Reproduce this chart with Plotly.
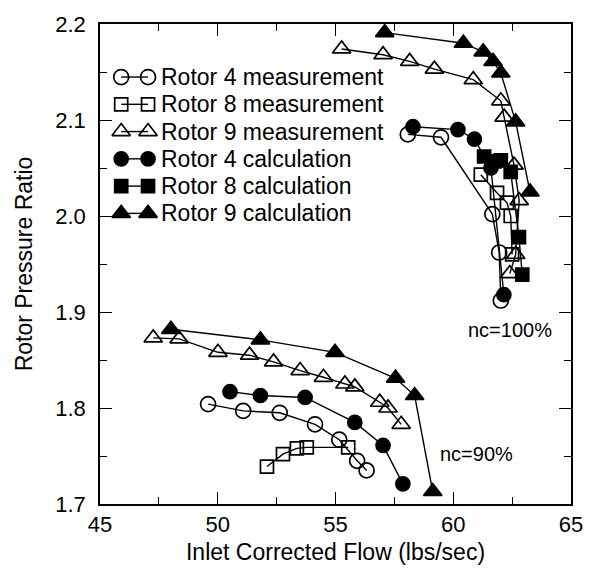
import plotly.graph_objects as go

# ---------------- data ----------------
# 100% speed line
r4_meas_100_x = [58.07, 59.48, 61.66, 61.95, 62.02]
r4_meas_100_y = [2.085, 2.082, 2.002, 1.962, 1.912]
r8_meas_100_x = [61.17, 61.86, 62.28, 62.44, 62.50]
r8_meas_100_y = [2.043, 2.024, 2.014, 2.000, 1.960]
r9_meas_100_x = [55.26, 57.02, 58.15, 59.20, 60.85, 62.02, 62.16, 62.58, 62.80, 62.65, 62.40]
r9_meas_100_y = [2.174, 2.168, 2.161, 2.153, 2.142, 2.120, 2.103, 2.053, 2.016, 1.960, 1.940]
r4_calc_100_x = [58.29, 60.20, 60.90, 61.60, 62.15]
r4_calc_100_y = [2.093, 2.090, 2.080, 2.050, 1.918]
r8_calc_100_x = [61.31, 61.75, 62.02, 62.44, 62.79, 62.93]
r8_calc_100_y = [2.062, 2.057, 2.058, 2.046, 1.978, 1.939]
r9_calc_100_x = [57.09, 60.43, 61.27, 61.69, 62.02, 62.65, 63.26]
r9_calc_100_y = [2.191, 2.180, 2.171, 2.161, 2.149, 2.098, 2.025]

# 90% speed line
r4_meas_90_x = [49.59, 51.08, 52.63, 54.13, 55.16, 55.92, 56.32]
r4_meas_90_y = [1.804, 1.797, 1.795, 1.783, 1.767, 1.745, 1.735]
r8_meas_90_x = [52.09, 52.77, 53.36, 53.78, 55.54]
r8_meas_90_y = [1.739, 1.752, 1.758, 1.759, 1.759]
r9_meas_90_x = [47.26, 48.36, 50.01, 51.35, 52.37, 53.50, 54.49, 55.40, 55.82, 56.88, 57.23, 57.79]
r9_meas_90_y = [1.873, 1.872, 1.858, 1.855, 1.848, 1.839, 1.832, 1.825, 1.822, 1.806, 1.800, 1.783]
r4_calc_90_x = [50.52, 51.81, 53.71, 55.82, 57.02, 57.86]
r4_calc_90_y = [1.817, 1.813, 1.811, 1.785, 1.761, 1.721]
r9_calc_90_x = [48.01, 51.81, 54.98, 57.55, 58.36, 59.13]
r9_calc_90_y = [1.882, 1.871, 1.858, 1.831, 1.813, 1.713]

series_names = ["Rotor 4 measurement", "Rotor 8 measurement", "Rotor 9 measurement",
                "Rotor 4 calculation", "Rotor 8 calculation", "Rotor 9 calculation"]

x_ticks = [45, 50, 55, 60, 65]
y_ticks = [1.7, 1.8, 1.9, 2.0, 2.1, 2.2]
y_tick_text = ["1.7", "1.8", "1.9", "2.0", "2.1", "2.2"]

speed_labels = ["nc=100%", "nc=90%"]
speed_label_x = [60.55, 59.35]
speed_label_y = [1.881, 1.752]

# ---------------- styles ----------------
FONT = "Liberation Sans, Arial, Helvetica, sans-serif"
styles = [
    dict(symbol="circle-open", size=15),
    dict(symbol="square-open", size=13),
    dict(symbol="triangle-up-open", size=16),
    dict(symbol="circle", size=14),
    dict(symbol="square", size=13),
    dict(symbol="triangle-up", size=16),
]

series = [
    (r4_meas_100_x, r4_meas_100_y, r4_meas_90_x, r4_meas_90_y),
    (r8_meas_100_x, r8_meas_100_y, r8_meas_90_x, r8_meas_90_y),
    (r9_meas_100_x, r9_meas_100_y, r9_meas_90_x, r9_meas_90_y),
    (r4_calc_100_x, r4_calc_100_y, r4_calc_90_x, r4_calc_90_y),
    (r8_calc_100_x, r8_calc_100_y, [], []),
    (r9_calc_100_x, r9_calc_100_y, r9_calc_90_x, r9_calc_90_y),
]

fig = go.Figure()
for (x1, y1, x2, y2), st, name in zip(series, styles, series_names):
    xs = list(x1) + ([None] + list(x2) if x2 else [])
    ys = list(y1) + ([None] + list(y2) if y2 else [])
    fig.add_trace(go.Scatter(
        x=xs, y=ys, mode="lines+markers", name=name, connectgaps=False,
        line=dict(color="black", width=1.4),
        marker=dict(symbol=st["symbol"], size=st["size"], color="black",
                    line=dict(color="black", width=1.7)),
        showlegend=False,
    ))

# ---------------- hand-made legend (two symbols joined by a line) ----------------
LEG_X = [0.045, 0.102]
LEG_TEXT_X = 0.126
LEG_Y0 = 0.8895
LEG_DY = 0.0568
for i, (st, name) in enumerate(zip(styles, series_names)):
    yy = LEG_Y0 - i * LEG_DY
    fig.add_trace(go.Scatter(
        x=LEG_X, y=[yy, yy], xaxis="x2", yaxis="y2", mode="lines+markers",
        line=dict(color="black", width=1.4),
        marker=dict(symbol=st["symbol"], size=st["size"], color="black",
                    line=dict(color="black", width=1.7)),
        showlegend=False, hoverinfo="skip",
    ))
    fig.add_annotation(x=LEG_TEXT_X, y=yy, xref="paper", yref="paper", text=name,
                       showarrow=False, xanchor="left", yanchor="middle",
                       font=dict(family=FONT, size=23, color="black"))

for t, xx, yy in zip(speed_labels, speed_label_x, speed_label_y):
    fig.add_annotation(x=xx, y=yy, xref="x", yref="y", text=t, showarrow=False,
                       xanchor="left", yanchor="middle",
                       font=dict(family=FONT, size=20, color="black"))

axis_common = dict(
    showline=True, linecolor="black", linewidth=1.6, mirror="ticks",
    ticks="inside", ticklen=12, tickwidth=1.3, tickcolor="black",
    showgrid=False, zeroline=False,
    tickfont=dict(family=FONT, size=22, color="black"),
    title_font=dict(family=FONT, size=23, color="black"),
)

fig.update_layout(
    width=595, height=574,
    margin=dict(l=100, r=23, t=18, b=70),
    paper_bgcolor="white", plot_bgcolor="white",
    showlegend=False,
    xaxis=dict(range=[45, 65], tickvals=x_ticks, title_text="Inlet Corrected Flow (lbs/sec)",
               title_standoff=8,
               minor=dict(ticks="inside", ticklen=7, tickwidth=1.3, tickcolor="black", dtick=2.5,
                          showgrid=False),
               **axis_common),
    yaxis=dict(range=[1.7, 2.2], tickvals=y_ticks, ticktext=y_tick_text,
               title_text="Rotor Pressure Ratio", title_standoff=16,
               ticklabelstandoff=8,
               minor=dict(ticks="inside", ticklen=7, tickwidth=1.3, tickcolor="black", dtick=0.05,
                          showgrid=False),
               **axis_common),
    xaxis2=dict(overlaying="x", range=[0, 1], visible=False),
    yaxis2=dict(overlaying="y", range=[0, 1], visible=False),
)

fig.write_html("out.html")
